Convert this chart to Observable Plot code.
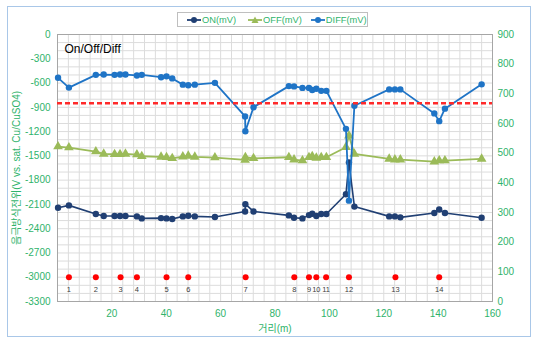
<!DOCTYPE html>
<html>
<head>
<meta charset="utf-8">
<script src="https://cdn.jsdelivr.net/npm/d3@7"></script>
<script src="https://cdn.jsdelivr.net/npm/@observablehq/plot@0.6"></script>
<style>
  html, body { margin: 0; padding: 0; background: #fff; }
  #wrap { position: relative; width: 533px; height: 337px; font-family: "Liberation Sans", "Noto Sans CJK KR", sans-serif; }
  #border { position: absolute; left: 7px; top: 6px; width: 522px; height: 329px; border: 1px solid #a9c7e8; pointer-events: none; }
  #legend { position: absolute; left: 177px; top: 12px; width: 189px; height: 13px; border: 1px solid #bfbfbf; background: #fff;
            display: flex; align-items: center; font-size: 9.3px; color: #2fb36b; white-space: nowrap; }
  #legend .item { display: flex; align-items: center; }
  #legend svg { margin-right: 1px; }
  #chart { position: absolute; left: 0; top: 0; }
</style>
</head>
<body>
<div id="wrap">
  <div id="chart"></div>
  <div id="border"></div>
  <div id="legend"></div>
</div>
<script>
// ---- data ----
const distance = [0.2, 4.2, 14.1, 17.0, 21.0, 23.0, 25.0, 29.2, 31.0, 38.1, 40.1, 42.2, 46.1, 48.1, 50.5, 57.9, 69.0, 69.1, 72.1, 85.1, 87.0, 90.1, 92.5, 93.7, 95.2, 97.0, 98.9, 106.1, 107.2, 109.2, 122.0, 124.1, 126.1, 138.6, 140.4, 142.5, 156.0];
const onMv = [-2141, -2112, -2219, -2244, -2244, -2244, -2244, -2248, -2273, -2269, -2273, -2281, -2248, -2240, -2248, -2256, -2187, -2097, -2187, -2236, -2265, -2273, -2232, -2215, -2244, -2219, -2219, -1975, -1580, -2127, -2248, -2248, -2260, -2207, -2162, -2207, -2265];
const offMv = [-1385, -1397, -1447, -1475, -1480, -1480, -1475, -1484, -1505, -1512, -1517, -1530, -1509, -1500, -1512, -1521, -1550, -1517, -1530, -1517, -1546, -1558, -1517, -1505, -1525, -1517, -1517, -1393, -1250, -1475, -1537, -1546, -1546, -1571, -1558, -1558, -1537];
const diffMv = [754, 721, 764, 765, 764, 765, 765, 762, 764, 756, 759, 752, 731, 729, 731, 737, 624, 574, 655, 726, 725, 720, 720, 713, 717, 710, 710, 582, 340, 660, 715, 715, 715, 634, 608, 650, 732];

const testPointX = [4.2, 14.1, 23.2, 29.2, 40.1, 48.1, 69.2, 87.1, 92.5, 95.2, 98.8, 107.2, 124.3, 140.4];
const testPointLabels = ["1","2","3","4","5","6","7","8","9","10","11","12","13","14"];
const testPointLevel = -3000;
const criterion = -850;

const xTicks = [20, 40, 60, 80, 100, 120, 140, 160];
const leftTicks = [0, -300, -600, -900, -1200, -1500, -1800, -2100, -2400, -2700, -3000, -3300];
const rightTicks = [0, 100, 200, 300, 400, 500, 600, 700, 800, 900];

const seriesNames = ["ON(mV)", "OFF(mV)", "DIFF(mV)"];
const titleText = "On/Off/Diff";
const yLabel = "음극방식전위(V vs. sat. Cu/CuSO4)";
const xLabel = "거리(m)";

// ---- styles ----
const cOn = "#203f73", cOff = "#9bbb59", cDiff = "#1f74c6", cGreen = "#2fb36b", cRed = "#ff2a2a";

// right axis (0..900) mapped onto left axis (-3300..0)
const leftMin = -3300, leftMax = 0, rightMin = 0, rightMax = 900;
const toLeft = r => leftMin + (r - rightMin) * (leftMax - leftMin) / (rightMax - rightMin);
const toRight = l => rightMin + (l - leftMin) * (rightMax - rightMin) / (leftMax - leftMin);

const rows = distance.map((x, i) => ({x, on: onMv[i], off: offMv[i], diff: diffMv[i]}));
const tps = testPointX.map((x, i) => ({x, label: testPointLabels[i], y: testPointLevel}));

const chart = Plot.plot({
  width: 533,
  height: 337,
  marginLeft: 57,
  marginRight: 41,
  marginTop: 34,
  marginBottom: 36,
  style: {fontFamily: "'Liberation Sans', 'Noto Sans CJK KR', sans-serif", background: "transparent"},
  x: {domain: [0, 160]},
  y: {domain: [leftMin, leftMax]},
  marks: [
    Plot.gridX(d3.range(4, 160, 4), {stroke: "#dcdcdc", strokeOpacity: 1}),
    Plot.gridY(d3.range(-3200, 0, 100), {stroke: "#dcdcdc", strokeOpacity: 1}),
    Plot.frame({stroke: "#a6a6a6"}),
    Plot.axisX({ticks: xTicks, tickSize: 0, tickPadding: 8, color: cGreen, fontSize: 10,
      tickFormat: d => String(d),
      label: xLabel, labelAnchor: "center", labelArrow: "none", labelOffset: 30}),
    Plot.axisY({ticks: leftTicks, tickSize: 0, tickPadding: 7, color: cGreen, fontSize: 10,
      tickFormat: d => String(d),
      label: yLabel, labelAnchor: "center", labelArrow: "none", labelOffset: 45}),
    Plot.axisY(rightTicks.map(toLeft), {anchor: "right", tickSize: 0, tickPadding: 5, color: cGreen, fontSize: 10,
      tickFormat: d => String(Math.round(toRight(d))), label: null}),
    // OFF
    Plot.line(rows, {x: "x", y: "off", stroke: cOff, strokeWidth: 1.8}),
    Plot.dot(rows, {x: "x", y: "off", symbol: "triangle", r: 3.6, fill: cOff, stroke: null}),
    // ON
    Plot.line(rows, {x: "x", y: "on", stroke: cOn, strokeWidth: 1.6}),
    Plot.dot(rows, {x: "x", y: "on", r: 3.2, fill: cOn, stroke: null}),
    // DIFF on right axis
    Plot.line(rows, {x: "x", y: d => toLeft(d.diff), stroke: cDiff, strokeWidth: 1.8}),
    Plot.dot(rows, {x: "x", y: d => toLeft(d.diff), r: 3.2, fill: cDiff, stroke: null}),
    // criterion
    Plot.ruleY([criterion], {stroke: cRed, strokeWidth: 2.4, strokeDasharray: "5,3"}),
    // test points
    Plot.dot(tps, {x: "x", y: "y", r: 3, fill: "#ff0000", stroke: null}),
    Plot.text(tps, {x: "x", y: "y", text: "label", dy: 12, fontSize: 7.5, fill: "#404040"}),
    // title
    Plot.text([titleText], {frameAnchor: "top-left", dx: 7, dy: 10, fontSize: 12, fill: "#000", text: d => d})
  ]
});
document.getElementById("chart").appendChild(chart);

// legend
const legend = document.getElementById("legend");
const symbols = [
  {color: cOn, shape: "circle", gap: 9},
  {color: cOff, shape: "triangle", gap: 12},
  {color: cDiff, shape: "circle", gap: 9}
];
seriesNames.forEach((name, i) => {
  const s = symbols[i];
  const item = document.createElement("div");
  item.className = "item";
  item.style.marginLeft = s.gap + "px";
  const shape = s.shape === "circle"
    ? `<circle cx="7" cy="5" r="3" fill="${s.color}"/>`
    : `<path d="M7,1.5 L10.5,8 L3.5,8 Z" fill="${s.color}"/>`;
  item.innerHTML = `<svg width="14" height="10"><line x1="0" x2="14" y1="5" y2="5" stroke="${s.color}" stroke-width="1.8"/>${shape}</svg><span>${name}</span>`;
  legend.appendChild(item);
});
</script>
</body>
</html>
